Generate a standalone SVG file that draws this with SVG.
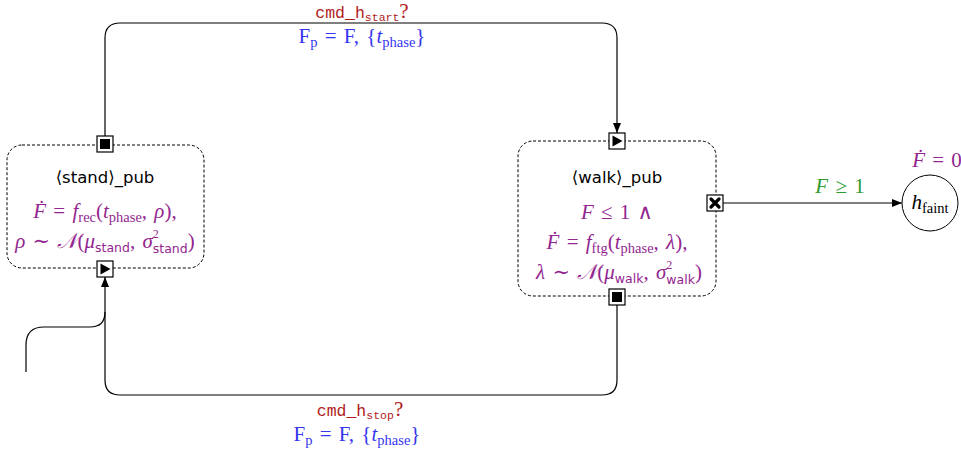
<svg xmlns="http://www.w3.org/2000/svg" width="961" height="455" viewBox="0 0 961 455">
<defs>
<marker id="arr" viewBox="0 0 10 8" refX="10" refY="4" markerWidth="10" markerHeight="8" markerUnits="userSpaceOnUse" orient="auto">
<path d="M0,0 L10,4 L0,8 Z" fill="#000"/>
</marker>
</defs>
<style>
.box{fill:#fff;stroke:#000;stroke-width:1;stroke-dasharray:3,2}
.port{fill:#fff;stroke:#000;stroke-width:1.2}
.edge{fill:none;stroke:#000;stroke-width:1.2}
.sans{font-family:"DejaVu Sans","Liberation Sans",sans-serif;font-size:16.5px;fill:#000}
.m{font-family:"Liberation Serif","DejaVu Serif",serif;font-size:21px;word-spacing:2px}
.i{font-style:italic}
.mono{font-family:"Liberation Mono","DejaVu Sans Mono",monospace}
.pur{fill:#93268f}
.red{fill:#b01c1c}
.blu{fill:#3535f0}
.grn{fill:#2f9a2f}
.sub{font-size:14.5px}
.sup{font-size:12px}
.ssub{font-family:"DejaVu Sans","Liberation Sans",sans-serif;font-size:12.5px;font-style:normal}
</style>

<g id="connectors">
<path class="edge" d="M105,136 V38 Q105,23 120,23 H602 Q617,23 617,38 V133" marker-end="url(#arr)"/>
<path class="edge" d="M617,305 V380 Q617,395 602,395 H120 Q105,395 105,380 V277" marker-end="url(#arr)"/>
<path class="edge" d="M26,372 V345 Q26,327 44,327 H90 Q105,327 105,312"/>
<path class="edge" d="M723,203 H902" marker-end="url(#arr)"/>
</g>

<g id="stand">
<rect class="box" x="7" y="145" width="197" height="123" rx="15"/>
<text class="sans" x="105" y="183" text-anchor="middle">⟨stand⟩_pub</text>
<text class="m pur" x="105" y="218" text-anchor="middle"><tspan class="i">Ḟ</tspan> = <tspan class="i">f</tspan><tspan class="sub" dy="4">rec</tspan><tspan dy="-4">(</tspan><tspan class="i">t</tspan><tspan class="sub" dy="4">phase</tspan><tspan dy="-4">, </tspan><tspan class="i">ρ</tspan>),</text>
<text class="m pur" x="105" y="248" text-anchor="middle"><tspan class="i">ρ</tspan> ∼ <tspan class="i">𝒩</tspan>(<tspan class="i">μ</tspan><tspan class="ssub" dy="4">stand</tspan><tspan dy="-4">, </tspan><tspan class="i">σ</tspan><tspan class="sup" dy="-10">2</tspan><tspan class="ssub" dx="-6" dy="15">stand</tspan><tspan dy="-5">)</tspan></text>
<rect class="port" x="97" y="136" width="16" height="16"/>
<rect x="100" y="139" width="10" height="10" fill="#000"/>
<rect class="port" x="97" y="261" width="16" height="16"/>
<path d="M100.5,263.5 L110.5,269 L100.5,274.5 Z" fill="#000"/>
</g>

<g id="walk">
<rect class="box" x="518" y="141" width="198" height="155" rx="15"/>
<text class="sans" x="617" y="183" text-anchor="middle">⟨walk⟩_pub</text>
<text class="m pur" x="617" y="219" text-anchor="middle"><tspan class="i">F</tspan> ≤ 1 ∧</text>
<text class="m pur" x="617" y="249" text-anchor="middle"><tspan class="i">Ḟ</tspan> = <tspan class="i">f</tspan><tspan class="sub" dy="4">ftg</tspan><tspan dy="-4">(</tspan><tspan class="i">t</tspan><tspan class="sub" dy="4">phase</tspan><tspan dy="-4">, </tspan><tspan class="i">λ</tspan>),</text>
<text class="m pur" x="619" y="279" text-anchor="middle"><tspan class="i">λ</tspan> ∼ <tspan class="i">𝒩</tspan>(<tspan class="i">μ</tspan><tspan class="ssub" dy="4">walk</tspan><tspan dy="-4">, </tspan><tspan class="i">σ</tspan><tspan class="sup" dy="-10">2</tspan><tspan class="ssub" dx="-6" dy="15">walk</tspan><tspan dy="-5">)</tspan></text>
<rect class="port" x="609" y="133" width="16" height="16"/>
<path d="M612.5,135.5 L622.5,141 L612.5,146.5 Z" fill="#000"/>
<rect class="port" x="609" y="289" width="16" height="16"/>
<rect x="612" y="292" width="10" height="10" fill="#000"/>
<rect class="port" x="707" y="195" width="16" height="16"/>
<path d="M711,199 L719,207 M719,199 L711,207" stroke="#000" stroke-width="3.2" stroke-linecap="round"/>
</g>

<g id="faint">
<circle cx="930" cy="203" r="28" fill="#fff" stroke="#000" stroke-width="1"/>
<text class="m" x="930" y="209" text-anchor="middle"><tspan class="i">h</tspan><tspan class="sub" dy="4">faint</tspan></text>
<text class="m pur" x="937" y="167" text-anchor="middle"><tspan class="i">Ḟ</tspan> = 0</text>
</g>

<g id="labels">
<text class="m red" x="362" y="18" text-anchor="middle"><tspan class="mono" font-size="16.5">cmd_h</tspan><tspan class="mono" font-size="11.5" dy="3">start</tspan><tspan dy="-3">?</tspan></text>
<text class="m blu" x="362" y="43" text-anchor="middle">F<tspan class="sub" dy="4">p</tspan><tspan dy="-4"> = F, {</tspan><tspan class="i">t</tspan><tspan class="sub" dy="4">phase</tspan><tspan dy="-4">}</tspan></text>
<text class="m red" x="360" y="416" text-anchor="middle"><tspan class="mono" font-size="16.5">cmd_h</tspan><tspan class="mono" font-size="11.5" dy="3">stop</tspan><tspan dy="-3">?</tspan></text>
<text class="m blu" x="357" y="441" text-anchor="middle">F<tspan class="sub" dy="4">p</tspan><tspan dy="-4"> = F, {</tspan><tspan class="i">t</tspan><tspan class="sub" dy="4">phase</tspan><tspan dy="-4">}</tspan></text>
<text class="m grn" x="840" y="193" text-anchor="middle"><tspan class="i">F</tspan> ≥ 1</text>
</g>
</svg>
